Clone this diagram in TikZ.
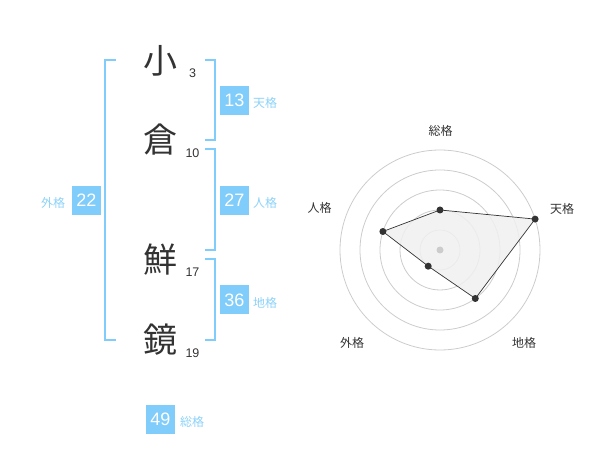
\documentclass[tikz,border=0pt]{standalone}
\usepackage{fontspec}
\setmainfont{Liberation Sans}
\newfontfamily\jp{Noto Sans CJK JP}
\definecolor{boxblue}{HTML}{80CCFA}
\definecolor{lblblue}{HTML}{8CD2F8}
\definecolor{ink}{HTML}{333333}
\definecolor{ring}{HTML}{CCCCCC}
\definecolor{polyfill}{HTML}{F0F0F0}
\begin{document}
\begin{tikzpicture}[x=1pt,y=-1pt,
  kanji/.style={font=\jp\fontsize{34}{34}\selectfont, text=ink, inner sep=0pt},
  stroke/.style={font=\fontsize{12.5}{12.5}\selectfont, text=ink, inner sep=0pt},
  valbox/.style={fill=boxblue, text=white, minimum width=29pt, minimum height=29pt, inner sep=0pt, font=\fontsize{18}{18}\selectfont},
  kaku/.style={font=\jp\fontsize{12}{12}\selectfont, text=lblblue, inner sep=0pt},
  axislbl/.style={font=\jp\fontsize{12}{12}\selectfont, text=ink, inner sep=0pt},
  bracket/.style={draw=boxblue, line width=2pt},
  dot/.style={circle, fill=ink, inner sep=0pt, minimum size=7pt}
]
\useasboundingbox (0,0) rectangle (600,470);
% characters
\node[kanji] (c1) at (160,61) {小};
\node[kanji] (c2) at (160,140) {倉};
\node[kanji] (c3) at (160,260) {鮮};
\node[kanji] (c4) at (160,340) {鏡};
\node[stroke] (s1) at (192.5,73) {3};
\node[stroke] (s2) at (192.5,153) {10};
\node[stroke] (s3) at (192.5,272) {17};
\node[stroke] (s4) at (192.5,353) {19};
% brackets
\coordinate (lt) at (116,60); \coordinate (lb) at (116,340);
\draw[bracket] (lt) -- (105,60) -- (105,340) -- (lb);
\coordinate (r1t) at (205,60); \coordinate (r1b) at (205,140);
\draw[bracket] (r1t) -- (215,60) -- (215,140) -- (r1b);
\coordinate (r2t) at (205,149); \coordinate (r2b) at (205,250);
\draw[bracket] (r2t) -- (215,149) -- (215,250) -- (r2b);
\coordinate (r3t) at (205,259); \coordinate (r3b) at (205,340);
\draw[bracket] (r3t) -- (215,259) -- (215,340) -- (r3b);
% value boxes
\node[valbox] (ten) at (234.5,100.5) {13};
\node[kaku] (tenl) at (265,103) {天格};
\node[valbox] (jin) at (234.5,200.5) {27};
\node[kaku] (jinl) at (265,203) {人格};
\node[valbox] (chi) at (234.5,300) {36};
\node[kaku] (chil) at (265,303) {地格};
\node[valbox] (gai) at (86.5,200.5) {22};
\node[kaku] (gail) at (53,203) {外格};
\node[valbox] (sou) at (160.5,419) {49};
\node[kaku] (soul) at (192,422) {総格};
% radar
\coordinate (ctr) at (440,250);
\foreach \r in {20,40,60,80,100} \draw[ring, line width=0.8pt] (ctr) circle[radius=\r];
\coordinate (p1) at (440,210);
\coordinate (p2) at (535.1,219.1);
\coordinate (p3) at (475.3,298.5);
\coordinate (p4) at (428.2,266.2);
\coordinate (p5) at (382.9,231.5);
\fill[polyfill, opacity=0.85] (p1) -- (p2) -- (p3) -- (p4) -- (p5) -- cycle;
\draw[ink, line width=0.7pt] (p1) -- (p2) -- (p3) -- (p4) -- (p5) -- cycle;
\fill[ring] (ctr) circle[radius=3.5];
\foreach \p in {p1,p2,p3,p4,p5} \node[dot] at (\p) {};
\node[axislbl] (a1) at (440.5,131) {総格};
\node[axislbl] (a2) at (562,208.5) {天格};
\node[axislbl] (a3) at (524,343) {地格};
\node[axislbl] (a4) at (352,343) {外格};
\node[axislbl] (a5) at (319.5,208) {人格};
\end{tikzpicture}
\end{document}
